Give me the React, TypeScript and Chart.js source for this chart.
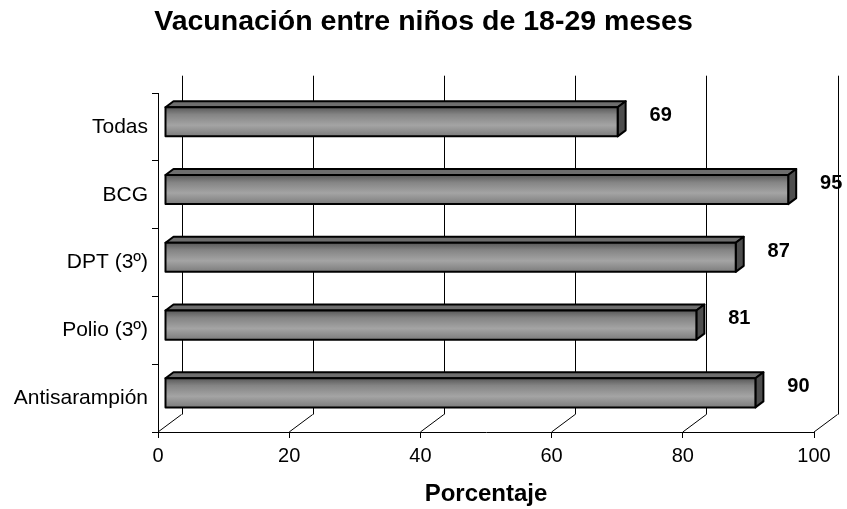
import { useEffect, useRef } from "react";
import { Chart, registerables, type Plugin } from "chart.js";

Chart.register(...registerables);

const categories = ["Todas", "BCG", "DPT (3º)", "Polio (3º)", "Antisarampión"];
const percentages = [69, 95, 87, 81, 90];
const axisMin = 0;
const axisMax = 100;
const axisStep = 20;

const FONT = "'Liberation Sans', Arial, sans-serif";

// fake 3d: back wall depth and where the bars sit inside it
const WALL_DX = 23.5;
const WALL_DY = -17.5;
const BAR_DX = 7;
const BAR_DY = -5.3;
const DEPTH_X = 8;
const DEPTH_Y = -6;

const px = (v: number) => Math.round(v) + 0.5;

const wallsPlugin: Plugin<"bar"> = {
  id: "walls",
  beforeDatasetsDraw(chart) {
    const { ctx, chartArea } = chart;
    const xScale = chart.scales.x;
    ctx.save();
    ctx.strokeStyle = "#000";
    ctx.lineWidth = 1;
    xScale.ticks.forEach((t) => {
      const x = xScale.getPixelForValue(t.value);
      ctx.beginPath();
      ctx.moveTo(x, chartArea.bottom);
      ctx.lineTo(x + WALL_DX, chartArea.bottom + WALL_DY);
      ctx.stroke();
      ctx.beginPath();
      ctx.moveTo(px(x + WALL_DX), chartArea.bottom + WALL_DY);
      ctx.lineTo(px(x + WALL_DX), chartArea.top + WALL_DY);
      ctx.stroke();
    });
    ctx.restore();
  },
};

const bars3dPlugin: Plugin<"bar"> = {
  id: "bars3d",
  afterDatasetsDraw(chart) {
    const { ctx } = chart;
    const meta = chart.getDatasetMeta(0);
    const xScale = chart.scales.x;
    const yScale = chart.scales.y;
    ctx.save();
    meta.data.forEach((el, i) => {
      const { x, y, base, height } = el.getProps(["x", "y", "base", "height"], true) as any;
      const left = base + BAR_DX;
      const right = x + BAR_DX;
      const top = y - height / 2 + BAR_DY;
      const bottom = y + height / 2 + BAR_DY;

      ctx.lineJoin = "round";
      ctx.lineWidth = 2;
      ctx.strokeStyle = "#000";

      // top face
      ctx.beginPath();
      ctx.moveTo(left, top);
      ctx.lineTo(left + DEPTH_X, top + DEPTH_Y);
      ctx.lineTo(right + DEPTH_X, top + DEPTH_Y);
      ctx.lineTo(right, top);
      ctx.closePath();
      ctx.fillStyle = "#6e6e6e";
      ctx.fill();
      ctx.stroke();

      // end face
      ctx.beginPath();
      ctx.moveTo(right, top);
      ctx.lineTo(right + DEPTH_X, top + DEPTH_Y);
      ctx.lineTo(right + DEPTH_X, bottom + DEPTH_Y);
      ctx.lineTo(right, bottom);
      ctx.closePath();
      ctx.fillStyle = "#4e4e4e";
      ctx.fill();
      ctx.stroke();

      // front face
      const g = ctx.createLinearGradient(0, top, 0, bottom);
      g.addColorStop(0, "#585858");
      g.addColorStop(0.25, "#848484");
      g.addColorStop(0.62, "#a4a4a4");
      g.addColorStop(1, "#7c7c7c");
      ctx.fillStyle = g;
      ctx.fillRect(left, top, right - left, bottom - top);
      ctx.strokeRect(left, top, right - left, bottom - top);

      // value label
      ctx.fillStyle = "#000";
      ctx.font = `bold 20px ${FONT}`;
      ctx.textAlign = "center";
      ctx.textBaseline = "middle";
      ctx.fillText(
        String(percentages[i]),
        xScale.getPixelForValue(percentages[i]) + 50,
        yScale.getPixelForValue(i) - 11.5
      );
    });
    ctx.restore();
  },
};

function VaccinationChart() {
  const canvasRef = useRef<HTMLCanvasElement | null>(null);

  useEffect(() => {
    const canvas = canvasRef.current;
    if (!canvas) return;

    const chart = new Chart(canvas, {
      type: "bar",
      data: {
        labels: categories,
        datasets: [
          {
            data: percentages,
            backgroundColor: "rgba(0,0,0,0)",
            borderWidth: 0,
            barPercentage: 0.43,
            categoryPercentage: 1,
          },
        ],
      },
      options: {
        indexAxis: "y",
        responsive: false,
        animation: false,
        layout: { padding: 0 },
        plugins: {
          legend: { display: false },
          tooltip: { enabled: false },
          title: {
            display: true,
            text: "Vacunación entre niños de 18-29 meses",
            color: "#000",
            font: { family: FONT, size: 28.5, weight: "bold" },
            padding: { top: 5, bottom: 54 },
          },
        },
        scales: {
          x: {
            type: "linear",
            min: axisMin,
            max: axisMax,
            afterFit: (s) => {
              s.height = 77;
            },
            ticks: {
              stepSize: axisStep,
              color: "#000",
              padding: 6,
              font: { family: FONT, size: 20 },
            },
            grid: { drawOnChartArea: false, drawTicks: true, tickLength: 6, color: "#000" },
            border: { display: true, color: "#000", width: 1 },
            title: {
              display: true,
              text: "Porcentaje",
              color: "#000",
              font: { family: FONT, size: 24, weight: "bold" },
              padding: { top: 0, bottom: 0 },
            },
          },
          y: {
            afterFit: (s) => {
              s.width = 158;
            },
            ticks: {
              color: "#000",
              padding: 4,
              font: { family: FONT, size: 21 },
            },
            grid: { drawOnChartArea: false, drawTicks: true, tickLength: 6, color: "#000", offset: true },
            border: { display: true, color: "#000", width: 1 },
          },
          // empty right box so the plot ends at the same place while the title stays centred on the page
          yRight: {
            type: "category",
            position: "right",
            afterFit: (s) => {
              s.width = 33;
            },
            ticks: { display: false },
            grid: { display: false },
            border: { display: false },
          },
        },
      },
      plugins: [wallsPlugin, bars3dPlugin],
    });

    return () => chart.destroy();
  }, []);

  return <canvas ref={canvasRef} width={847} height={509} />;
}

export default function App() {
  return (
    <div style={{ position: "absolute", left: 0, top: 0, width: 847, height: 509, background: "#fff" }}>
      <VaccinationChart />
    </div>
  );
}
